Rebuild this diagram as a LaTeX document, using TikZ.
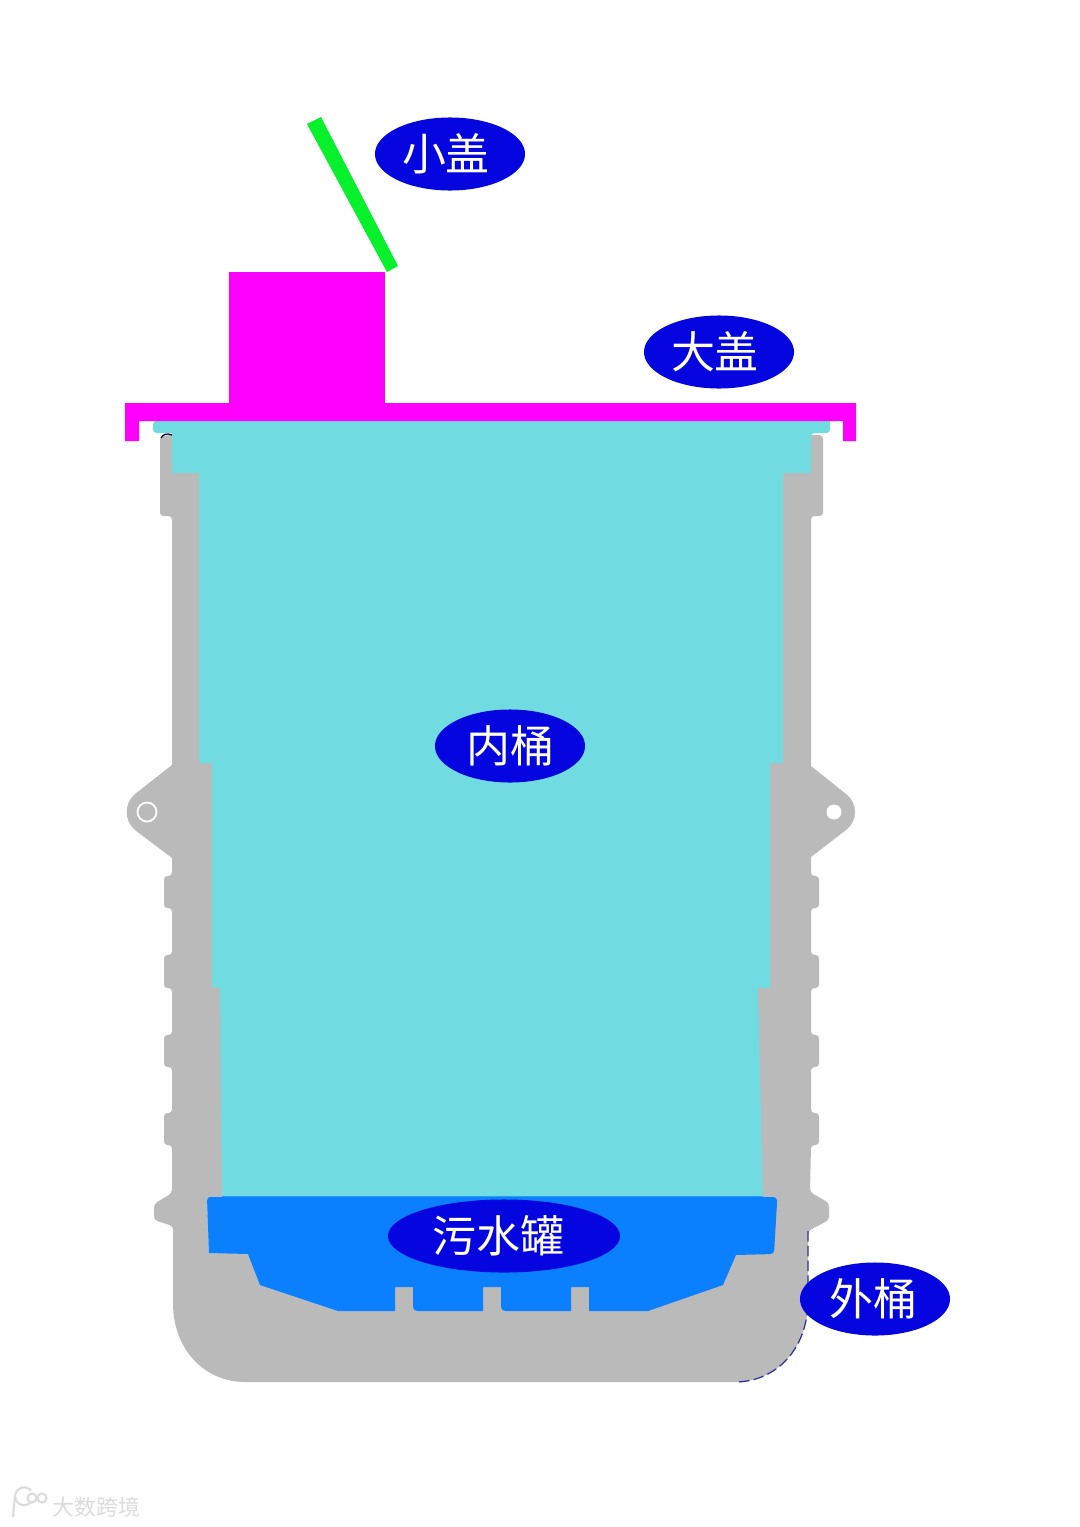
\documentclass[tikz,border=0pt]{standalone}
\usepackage{fontspec}
\usepackage{xcolor}
\usepackage{tikz}
\usetikzlibrary{
  positioning,
  shapes.geometric
}
\newfontfamily\cjk{Noto Sans CJK SC}
\definecolor{shellgray}{HTML}{BABABA}
\definecolor{innercyan}{HTML}{70DBE0}
\definecolor{tankblue}{HTML}{0A80FF}
\definecolor{ovalblue}{HTML}{0505E0}
\definecolor{lidpink}{HTML}{FF00FF}
\definecolor{flapgreen}{HTML}{06F02C}
\definecolor{dashnavy}{HTML}{30309A}

\begin{document}
\begin{tikzpicture}[
  x=0.01cm,
  y=-0.01cm,
  shell/.style={fill=shellgray},
  inner/.style={fill=innercyan},
  tank/.style={fill=tankblue},
  lid/.style={fill=lidpink},
  flap/.style={fill=flapgreen},
  tagoval/.style={
    ellipse,
    fill=ovalblue,
    text=white,
    inner sep=0pt,
    minimum width=1.5cm,
    minimum height=0.73cm,
    font=\cjk\fontsize{12.5}{14}\selectfont
  },
  stamp/.style={
    text=black!14,
    inner sep=0pt,
    font=\cjk\fontsize{6.2}{7}\selectfont
  }
]
\useasboundingbox (0,0) rectangle (1080,1527);

% Outer bucket
\fill[shell, rounded corners=1pt] (160,480) -- (160,436) -- (172,435) -- (823,435)
  -- (823,516) -- (811,516) [sharp corners] -- (811,766) -- (846,794)
  .. controls (858,803) and (858,821) .. (846,830) -- (811,857)
  [rounded corners=1pt] -- (811,876) -- (819,876) -- (819,908) -- (811,908)
  -- (811,955) -- (819,955) -- (819,988) -- (811,988)
  -- (811,1035) -- (819,1035) -- (819,1067) -- (811,1067)
  -- (811,1113) -- (819,1113) -- (819,1145) -- (811,1145)
  -- (810,1192) -- (829,1203) -- (829,1220) -- (808,1231)
  [sharp corners] -- (808,1300) .. controls (808,1350) and (775,1382) .. (735,1382)
  -- (245,1382) .. controls (205,1382) and (173,1350) .. (173,1303)
  [rounded corners=1pt] -- (173,1226) -- (154,1220) -- (154,1204) -- (172,1193)
  -- (172,1145) -- (164,1145) -- (164,1113) -- (172,1113)
  -- (172,1067) -- (164,1067) -- (164,1035) -- (172,1035)
  -- (172,988) -- (164,988) -- (164,955) -- (172,955)
  -- (172,908) -- (164,908) -- (164,876) -- (172,876)
  [sharp corners] -- (172,858) -- (135,830)
  .. controls (124,821) and (124,803) .. (135,794) -- (172,765)
  [rounded corners=1pt] -- (172,516) -- (160,516) -- cycle;

% Hinge holes
\draw[white, line width=0.5pt] (147,812) circle (9.5);
\fill[white] (834,812) circle (7.5);

% Dashed edge of the bucket
\draw[dashnavy, dashed, line width=0.35pt, dash pattern=on 3pt off 1.2pt]
  (808,1231) -- (808,1300) .. controls (808,1350) and (775,1382) .. (735,1382);

% Inner bucket
\fill[inner] (157,421) -- (830,421) [rounded corners=1pt] -- (830,433) -- (811,433)
  [sharp corners] -- (811,473) -- (783,473) -- (783,763) -- (770,763) -- (770,988)
  -- (758,988) -- (763,1197) -- (222,1197) -- (220,988) -- (212,987) -- (212,763)
  -- (199,763) -- (199,473) -- (172,473) -- (172,433)
  [rounded corners=1pt] -- (153,433) -- (153,421) -- cycle;
\draw[black!85!blue, line width=0.35pt] (161,438) .. controls (163,434) and (167,433) .. (172,435);

% Sewage tank
\fill[tank] (212,1197) -- (772,1197) [rounded corners=1pt] -- (777,1197) -- (777,1203) -- (774,1254)
  [sharp corners] -- (736,1255) -- (723,1285) -- (648,1311) -- (589,1311)
  [rounded corners=1pt] -- (589,1311) [sharp corners] -- (589,1287) -- (571,1287)
  -- (571,1311) [rounded corners=1.2pt] -- (501,1311) [sharp corners] -- (501,1287) -- (483,1287)
  -- (483,1311) [rounded corners=1.2pt] -- (413,1311) [sharp corners] -- (413,1287) -- (395,1287)
  -- (395,1311) -- (338,1311) -- (260,1285) -- (248,1254) -- (209,1253)
  [rounded corners=1pt] -- (207,1197) -- cycle;
\draw[tankblue!70!innercyan, line width=0.3pt] (222,1196.5) -- (763,1196.5);

% Lid and cap
\fill[lid] (125,403) -- (856,403) -- (856,441) -- (843,441) -- (843,421) -- (139,421)
  -- (139,441) -- (125,441) -- cycle;
\fill[lid] (229,272) rectangle (385,403);

% Small flap
\fill[flap] (307,124) -- (321,117) -- (398,266) -- (387,272) -- cycle;

% Labels
\node[tagoval] (smallcap) at (450,154) {小盖\kern2.3pt};
\node[tagoval] (biglid) at (719,352) {大盖\kern2.3pt};
\node[tagoval] (innerbucket) at (510,746) {内桶};
\node[tagoval, minimum width=2.32cm] (sewagetank) at (504,1236) {污水罐\kern3.4pt};
\node[tagoval] (outerbucket) at (875,1299) {外桶\kern1pt};

% Watermark
\node[stamp, anchor=west] (stamptext) at (52,1507) {大数跨境};
\draw[black!14, line width=0.6pt] (15,1496) -- (13,1517);
\draw[black!14, line width=0.6pt] (31,1502) arc (40:320:9);
\draw[black!14, line width=0.6pt] (32,1498) circle (4.5) (42,1498) circle (4.5);

\end{tikzpicture}
\end{document}
